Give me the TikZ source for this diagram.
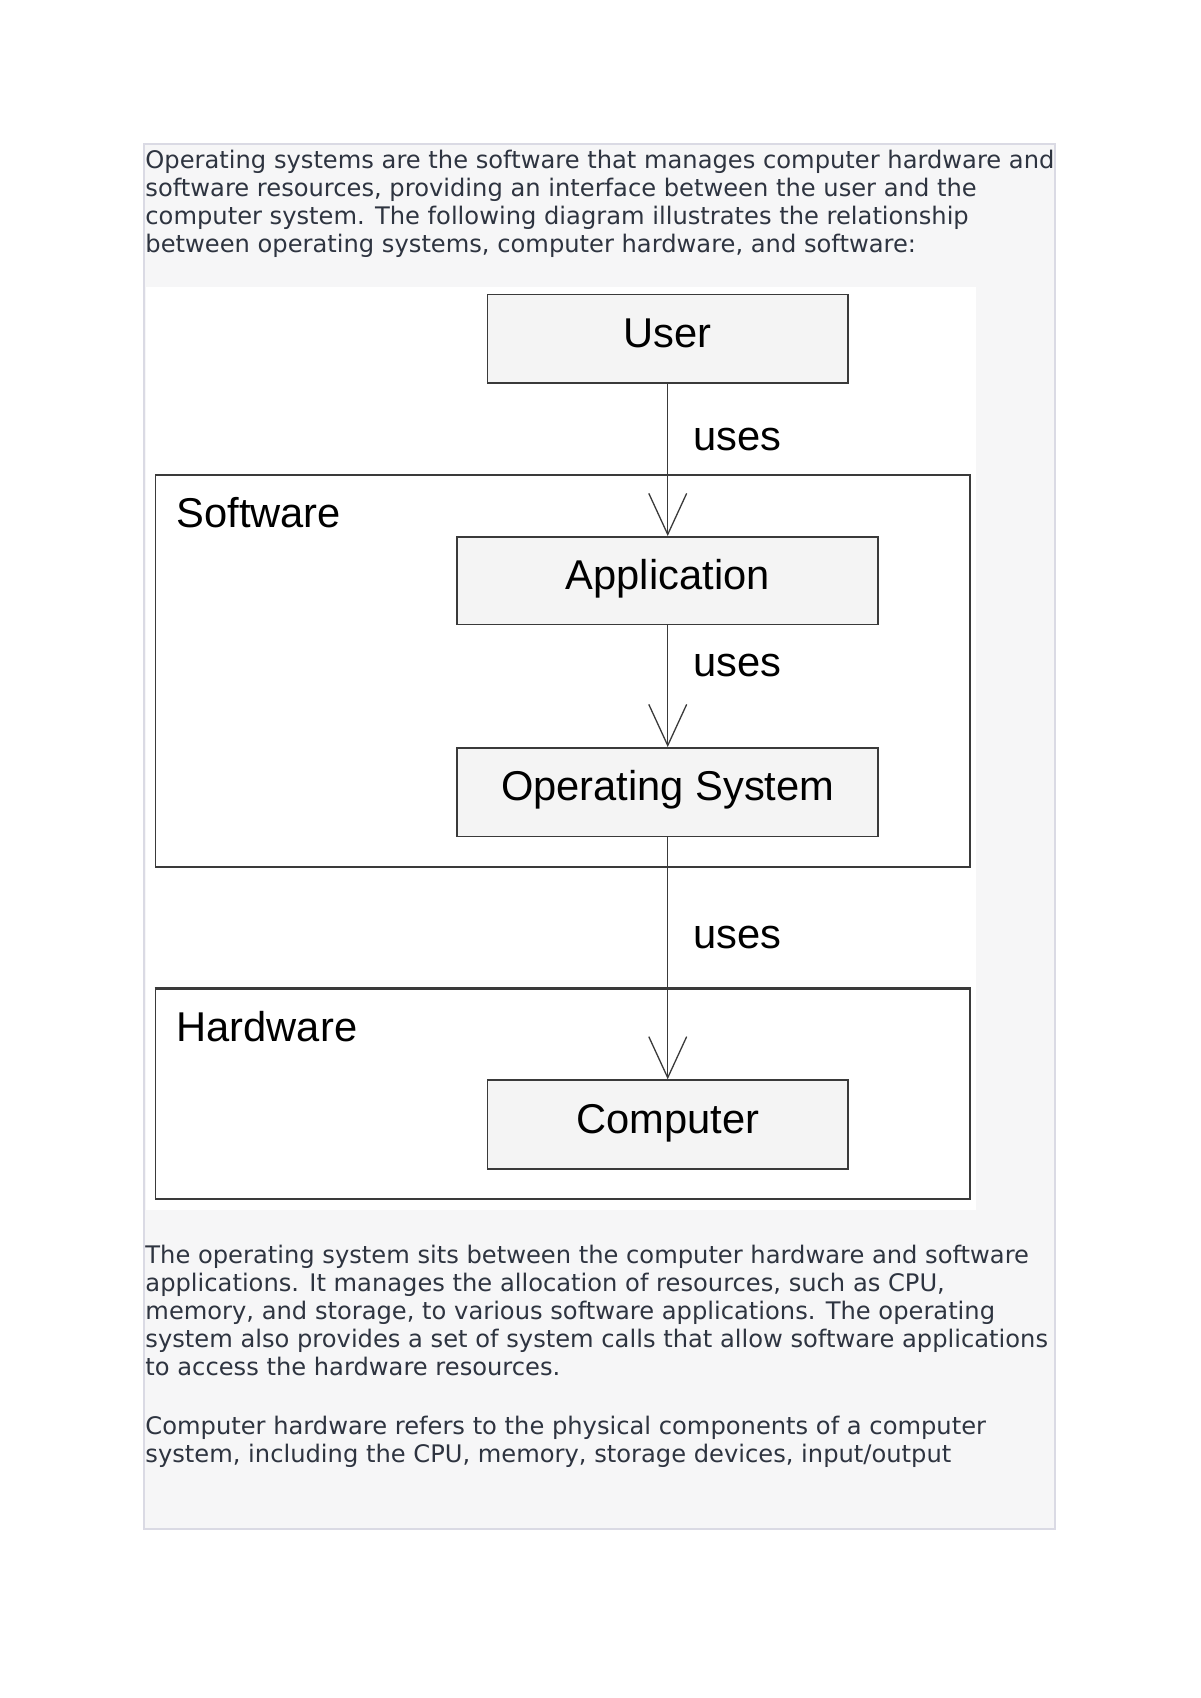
\documentclass[tikz,border=0pt]{standalone}
\usepackage{fontspec}
\setmainfont{DejaVu Sans}
\newfontfamily\diagfont{Liberation Sans}
\usetikzlibrary{arrows.meta}
\definecolor{PanelGray}{HTML}{F6F6F7}
\definecolor{PanelLine}{HTML}{DADAE4}
\definecolor{BoxGray}{HTML}{F4F4F4}
\definecolor{InkGray}{HTML}{3A3A3A}
\definecolor{TextSlate}{HTML}{2E3440}

\begin{document}
\begin{tikzpicture}[x=0.5pt,y=-0.5pt]
        % page grid: 1 unit = one pixel of a 1109 wide page
        \tikzset{
            prose/.style={anchor=north west,inner sep=0pt,align=left,text=TextSlate,
                font=\fontsize{11.17}{12.94}\selectfont},
            box/.style={draw=InkGray,fill=BoxGray,line width=0.7pt,inner sep=0pt,
                font=\diagfont\fontsize{19.25}{23}\selectfont,text height=14pt,text depth=6pt},
            frame/.style={draw=InkGray,line width=0.7pt,inner sep=0pt},
            framelabel/.style={anchor=west,inner sep=0pt,font=\diagfont\fontsize{19.25}{23}\selectfont},
            usesarrow/.style={line width=0.6pt,draw=InkGray,-{Straight Barb[length=19pt,width=17.5pt]}},
        }
        \newcommand{\UsesArrow}[3]{% from, to, label position
            \draw[usesarrow] (#1) -- node[pos=#3,anchor=west,xshift=11.5pt,inner sep=0pt,
                font=\diagfont\fontsize{19.25}{23}\selectfont] {uses} (#2);
        }

        \useasboundingbox (0,0) rectangle (1109,1569);
        \fill[PanelGray,draw=PanelLine,line width=1pt] (133,133) rectangle (975,1413);
        \fill[white] (135,265) rectangle (902,1118);

        \node[prose] (intro) at (134,138) {Operating systems are the software that manages computer hardware and\\
            software resources, providing an interface between the user and the\\
            computer system. The following diagram illustrates the relationship\\
            between operating systems, computer hardware, and software:};

        \node[frame,minimum width=376.5pt,minimum height=181pt] (sw) at (520,620) {};
        \node[frame,minimum width=376.5pt,minimum height=97pt] (hw) at (520,1011) {};
        \draw[InkGray,line width=1.2pt] (hw.north west) -- (hw.north east);
        \node[framelabel] (swlabel) at ([shift={(20,35)}]sw.north west) {Software};
        \node[framelabel] (hwlabel) at ([shift={(20,35)}]hw.north west) {Hardware};

        \node[box,minimum width=166.5pt,minimum height=41pt] (user) at (617,313) {User};
        \node[box,minimum width=194.5pt,minimum height=40.5pt] (app) at (617,536.5) {Application};
        \node[box,minimum width=194.5pt,minimum height=41pt] (os) at (617,732) {Operating System};
        \node[box,minimum width=166.5pt,minimum height=41pt] (comp) at (617,1039) {Computer};

        \UsesArrow{user}{app}{0.366};
        \UsesArrow{app}{os}{0.333};
        \UsesArrow{os}{comp}{0.413};

        \node[prose] (osnote) at (134,1150) {The operating system sits between the computer hardware and software\\
            applications. It manages the allocation of resources, such as CPU,\\
            memory, and storage, to various software applications. The operating\\
            system also provides a set of system calls that allow software applications\\
            to access the hardware resources.};
        \node[prose] (hwnote) at (134,1308) {Computer hardware refers to the physical components of a computer\\
            system, including the CPU, memory, storage devices, input/output};
\end{tikzpicture}
\end{document}
